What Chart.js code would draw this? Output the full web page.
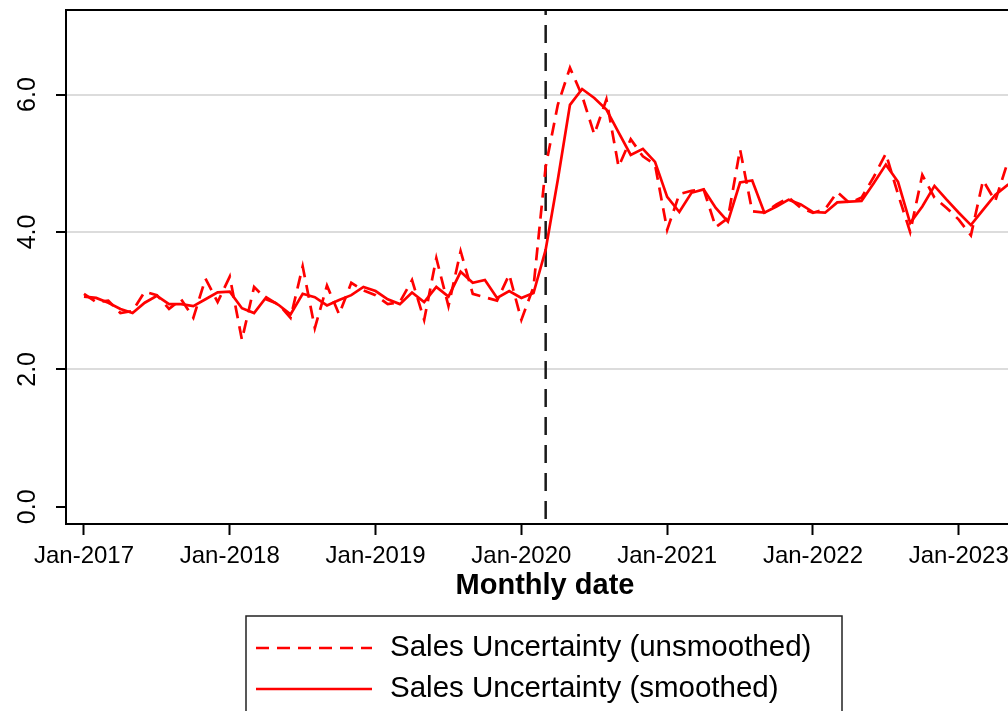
<!DOCTYPE html>
<html>
<head>
<meta charset="utf-8">
<script src="https://cdn.jsdelivr.net/npm/chart.js@4.4.1/dist/chart.umd.min.js"></script>
<style>
html, body { margin: 0; padding: 0; overflow: hidden; background: #fff; }
#wrap { position: absolute; left: 0; top: 0; width: 1088px; height: 730px; }
</style>
</head>
<body>
<div id="wrap"><canvas id="uncertaintyChart"></canvas></div>
<script>
// month index 0 = Jan-2017
var tickMonths = [0, 12, 24, 36, 48, 60, 72];
var tickLabels = ['Jan-2017', 'Jan-2018', 'Jan-2019', 'Jan-2020', 'Jan-2021', 'Jan-2022', 'Jan-2023'];
var yTicks = [0, 2, 4, 6];
var covidMonth = 38; // Mar-2020

var unsmoothed = [
  3.10, 2.98, 3.00, 2.82, 2.85, 3.13, 3.08, 2.88, 3.02, 2.75, 3.32, 2.98,
  3.35, 2.43, 3.20, 3.02, 2.95, 2.75, 3.50, 2.60, 3.22, 2.80, 3.26, 3.15,
  3.08, 2.95, 2.98, 3.30, 2.72, 3.62, 2.92, 3.72, 3.10, 3.05, 3.00, 3.38,
  2.72, 3.20, 4.95, 5.85, 6.39, 5.98, 5.42, 5.93, 4.95, 5.35, 5.10, 4.98,
  4.03, 4.55, 4.60, 4.62, 4.07, 4.20, 5.20, 4.30, 4.28, 4.40, 4.50, 4.35,
  4.28, 4.33, 4.58, 4.42, 4.50, 4.80, 5.14, 4.55, 4.00, 4.83, 4.50, 4.35,
  4.18, 3.95, 4.75, 4.45, 5.00, 5.10
];
var smoothed = [
  3.06, 3.04, 2.97, 2.88, 2.82, 2.97, 3.07, 2.95, 2.95, 2.92, 3.02, 3.12,
  3.13, 2.89, 2.82, 3.05, 2.94, 2.80, 3.10, 3.05, 2.93, 3.01, 3.08, 3.20,
  3.14, 3.02, 2.95, 3.12, 2.98, 3.20, 3.06, 3.42, 3.26, 3.30, 3.04, 3.14,
  3.04, 3.11, 3.74, 4.76, 5.85, 6.08, 5.95, 5.78, 5.45, 5.12, 5.21, 5.02,
  4.51, 4.29, 4.57, 4.62, 4.35, 4.15, 4.72, 4.75, 4.28, 4.37, 4.47, 4.40,
  4.29, 4.28, 4.43, 4.44, 4.45, 4.71, 4.98, 4.73, 4.13, 4.37, 4.67, 4.47,
  4.28, 4.10, 4.32, 4.54, 4.68, 4.78
];

var yMin = -0.25;
var yMax = 7.23;
var family = "'Liberation Sans', Arial, sans-serif";

function toPoints(values) {
    return values.map(function (v, i) { return { x: i, y: v }; });
}

// plot frame like the original (box around the plot region)
var frame = {
    id: 'frame',
    afterDatasetsDraw: function (chart) {
        var a = chart.chartArea;
        var ctx = chart.ctx;
        ctx.save();
        ctx.strokeStyle = '#000';
        ctx.lineWidth = 2;
        ctx.strokeRect(a.left, a.top, a.right - a.left, a.bottom - a.top);
        ctx.restore();
    }
};

// boxed legend under the axis title, entries stacked
var boxLegend = {
    id: 'boxLegend',
    afterDraw: function (chart) {
        var ctx = chart.ctx;
        var sets = chart.data.datasets.filter(function (d) { return d.inLegend; });
        var w = 596, rowH = 41;
        var left = chart.width / 2 - w / 2;
        var top = chart.scales.x.bottom;
        ctx.save();
        ctx.strokeStyle = '#222';
        ctx.lineWidth = 1.5;
        ctx.strokeRect(left, top, w, rowH * sets.length + 22);
        ctx.font = '29.5px ' + family;
        ctx.textBaseline = 'middle';
        ctx.fillStyle = '#000';
        sets.forEach(function (d, i) {
            var cy = top + 32 + i * rowH;
            ctx.beginPath();
            ctx.setLineDash(d.borderDash || []);
            ctx.strokeStyle = d.borderColor;
            ctx.lineWidth = d.borderWidth;
            ctx.moveTo(left + 10, cy);
            ctx.lineTo(left + 126, cy);
            ctx.stroke();
            ctx.setLineDash([]);
            ctx.fillText(d.label, left + 144, cy);
        });
        ctx.restore();
    }
};

var ctx = document.getElementById('uncertaintyChart').getContext('2d');

var myChart = new Chart(ctx, {
    type: 'line',
    data: {
        datasets: [{
            label: 'Sales Uncertainty (unsmoothed)',
            data: toPoints(unsmoothed),
            borderColor: '#ff0000',
            borderWidth: 2.7,
            borderDash: [13, 8],
            pointRadius: 0,
            tension: 0,
            inLegend: true
        }, {
            label: 'Sales Uncertainty (smoothed)',
            data: toPoints(smoothed),
            borderColor: '#ff0000',
            borderWidth: 2.7,
            pointRadius: 0,
            tension: 0,
            inLegend: true
        }, {
            label: 'covid',
            data: [{ x: covidMonth, y: yMin }, { x: covidMonth, y: yMax }],
            borderColor: '#1a1a1a',
            borderWidth: 2.5,
            borderDash: [18, 10],
            borderDashOffset: -5,
            pointRadius: 0,
            inLegend: false
        }]
    },
    options: {
        responsive: true,
        maintainAspectRatio: false,
        animation: false,
        layout: {
            padding: { top: 10, right: 64, left: 0, bottom: 114 }
        },
        plugins: {
            legend: { display: false },
            tooltip: { enabled: false }
        },
        scales: {
            x: {
                type: 'linear',
                min: -1.48,
                max: 77.37,
                afterBuildTicks: function (s) {
                    s.ticks = tickMonths.map(function (v) { return { value: v }; });
                },
                afterFit: function (s) {
                    s.height = 92;
                    s.paddingLeft = 0;
                    s.paddingRight = 0;
                },
                border: { display: false },
                grid: {
                    drawOnChartArea: false,
                    tickColor: '#000',
                    tickLength: 11,
                    tickWidth: 2
                },
                ticks: {
                    autoSkip: false,
                    maxRotation: 0,
                    minRotation: 0,
                    padding: 7,
                    color: '#000',
                    font: { family: family, size: 24 },
                    callback: function (v) { return tickLabels[tickMonths.indexOf(v)]; }
                },
                title: {
                    display: true,
                    text: 'Monthly date',
                    color: '#000',
                    font: { family: family, size: 29, weight: 'bold', lineHeight: 1 },
                    padding: { top: 0, bottom: 16 }
                }
            },
            y: {
                min: yMin,
                max: yMax,
                afterBuildTicks: function (s) {
                    s.ticks = yTicks.map(function (v) { return { value: v }; });
                },
                afterFit: function (s) {
                    s.width = 66;
                    s.paddingTop = 0;
                    s.paddingBottom = 0;
                },
                border: { display: false },
                grid: {
                    color: function (c) { return c.tick && c.tick.value === 0 ? 'rgba(0,0,0,0)' : '#dcdcdc'; },
                    lineWidth: 2,
                    tickColor: '#000',
                    tickLength: 10,
                    tickWidth: 2
                },
                ticks: {
                    minRotation: 90,
                    maxRotation: 90,
                    crossAlign: 'center',
                    padding: 11,
                    color: '#000',
                    font: { family: family, size: 25 },
                    callback: function (v) { return v.toFixed(1); }
                }
            }
        }
    },
    plugins: [frame, boxLegend]
});
</script>
</body>
</html>
